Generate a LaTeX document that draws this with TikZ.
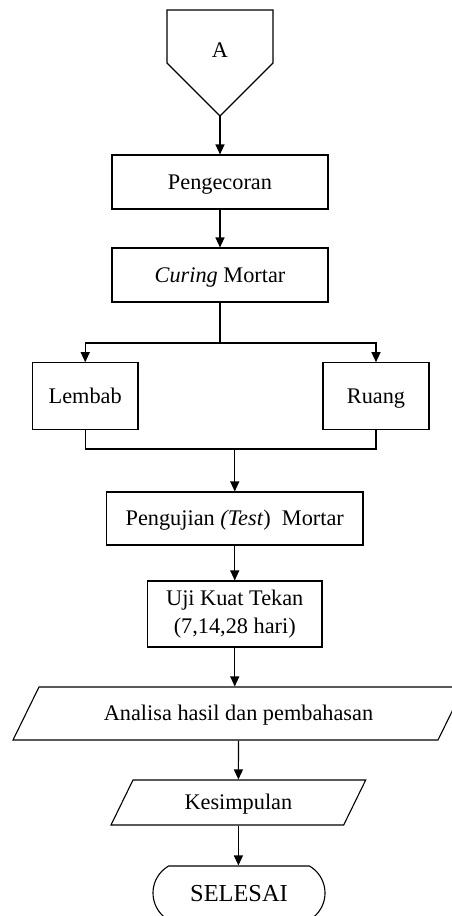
\documentclass[tikz,border=0pt]{standalone}
\usepackage{fontspec}
\setmainfont{Liberation Serif}
\usetikzlibrary{arrows.meta,shapes.misc}
\begin{document}
\begin{tikzpicture}[x=1pt,y=-1pt,line width=1.1pt,
  fnt/.style={font=\fontsize{22.3pt}{27.5pt}\selectfont},
  box/.style={draw,rectangle,inner sep=0pt,align=center,fnt,text height=16.4pt,text depth=1.6pt},
  txt/.style={inner sep=0pt,align=center,fnt,text height=16.4pt,text depth=1.6pt},
  arr/.style={-{Triangle[length=10pt,width=9pt]}}]
\useasboundingbox (0,0) rectangle (452,916);
% off-page connector A
\draw (167,10) -- (273,10) -- (273,63) -- (220,116) -- (167,63) -- cycle;
\node[txt] (A) at (220,50) {A};
\coordinate (Atip) at (220,116);
% boxes
\node[box,minimum width=216pt,minimum height=54pt] (peng) at (220,182) {Pengecoran};
\node[box,minimum width=216pt,minimum height=54pt] (cur) at (220,275) {\textit{Curing} Mortar};
\node[box,minimum width=105.5pt,minimum height=66.5pt] (lem) at (85.25,396) {Lembab};
\node[box,minimum width=106pt,minimum height=66.5pt] (rua) at (376,396) {Ruang};
\node[box,minimum width=256.5pt,minimum height=53pt] (uji1) at (234.75,518.5) {Pengujian \textit{(Test})\ \ Mortar};
\node[draw,rectangle,inner sep=0pt,align=center,fnt,minimum width=174.5pt,minimum height=66pt] (uji2) at (234.75,614) {\raisebox{-2.5pt}{Uji Kuat Tekan}\\\raisebox{-2.5pt}{(7,14,28 hari)}};
% parallelograms
\draw (39,687) -- (464,687) -- (438,740) -- (13,740) -- cycle;
\node[txt,minimum height=53pt] (ana) at (238.5,713.5) {Analisa hasil dan pembahasan};
\draw (133,780) -- (365.7,780) -- (343.7,825) -- (111,825) -- cycle;
\node[txt,minimum height=45pt] (kes) at (238.4,802.5) {Kesimpulan};
% terminator
\node[draw,rounded rectangle,rounded rectangle arc length=120,inner sep=0pt,
  minimum width=172pt,minimum height=54pt,text height=17.5pt,text depth=1.4pt,
  font=\fontsize{24.4pt}{28pt}\selectfont] (end) at (239,893) {SELESAI};
% connectors
\draw[arr] (Atip) -- (peng.north);
\draw[arr] (peng) -- (cur);
\coordinate (split) at (220,343);
\draw (cur.south) -- (split);
\draw[arr] (split) -| (lem.north);
\draw[arr] (split) -| (rua.north);
\coordinate (merge) at (234.75,449);
\draw (lem.south) |- (merge) -| (rua.south);
\draw[arr] (merge) -- (uji1.north);
\draw[arr] (uji1) -- (uji2);
\draw[arr] (uji2.south) -- (uji2.south |- ana.north);
\draw[arr] (ana.south) -- (kes.north);
\draw[arr] (kes.south) -- (kes.south |- end.north);
\end{tikzpicture}
\end{document}
